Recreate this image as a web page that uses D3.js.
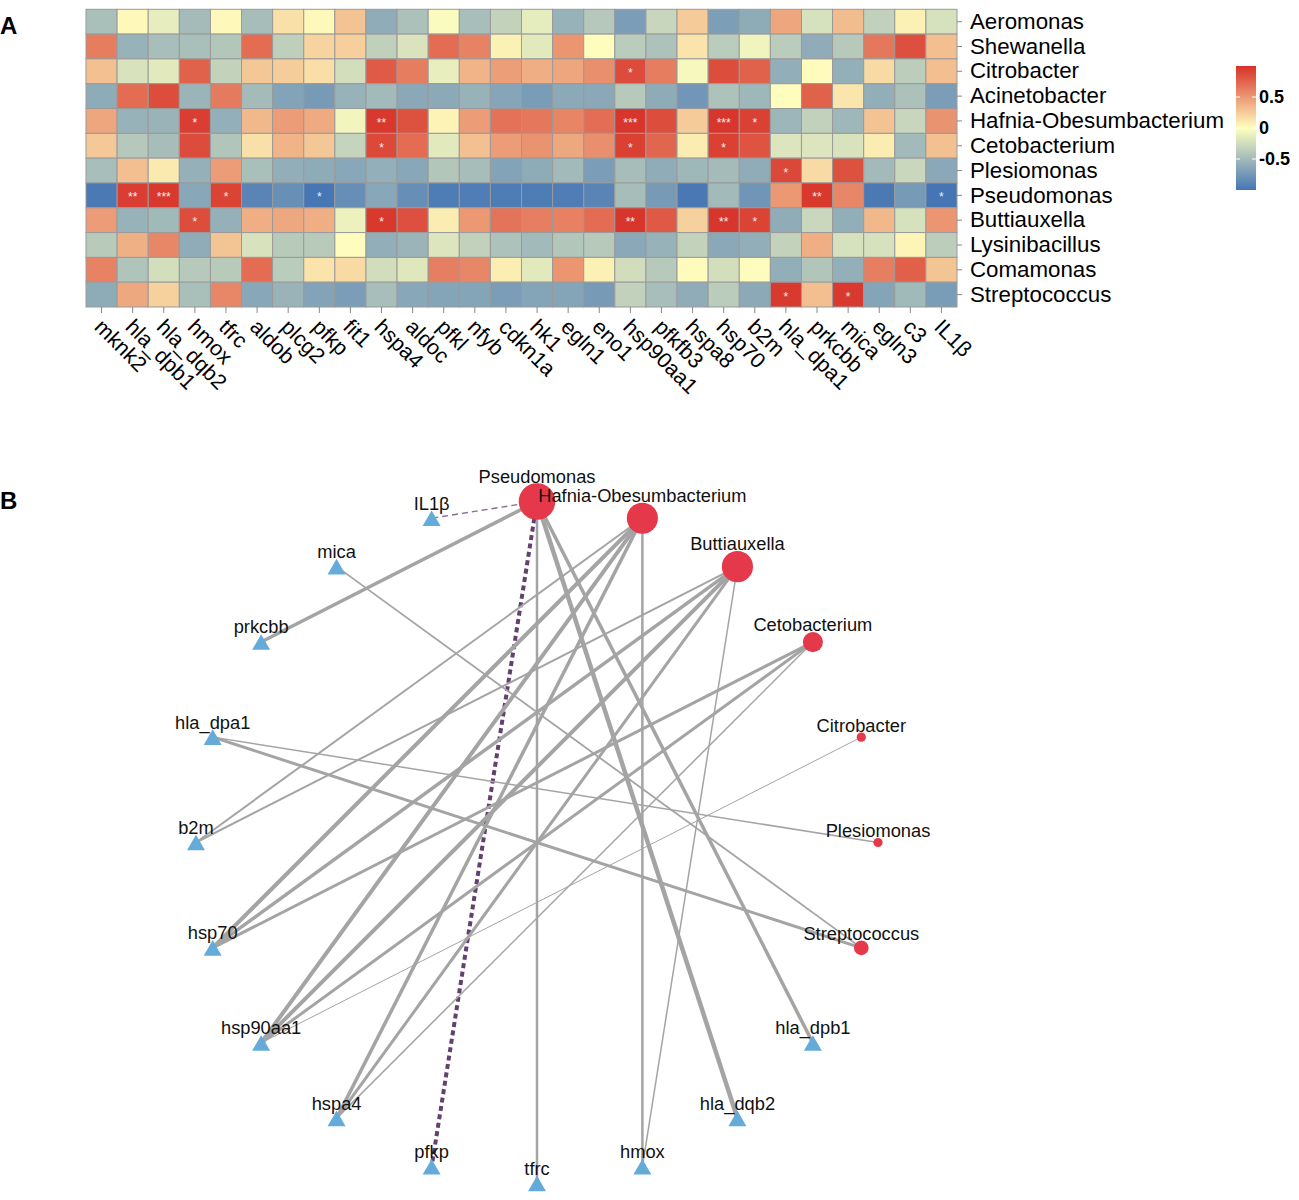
<!DOCTYPE html>
<html lang="en">
<head>
<meta charset="UTF-8">
<title>Microbe - gene correlation</title>
<script src="https://d3js.org/d3.v7.min.js"></script>
<style>
  body { margin: 0; padding: 0; background: #fff; }
  svg { display: block; font-family: 'Liberation Sans', Arial, sans-serif; }
</style>
</head>
<body>
<svg id="chart" width="1299" height="1200"></svg>
<script>
  // ---- heatmap data (rows = microbes, cols = genes) ----
  var microbes = ['Aeromonas', 'Shewanella', 'Citrobacter', 'Acinetobacter', 'Hafnia-Obesumbacterium',
    'Cetobacterium', 'Plesiomonas', 'Pseudomonas', 'Buttiauxella', 'Lysinibacillus', 'Comamonas', 'Streptococcus'];
  var genes = ['mknk2', 'hla_dpb1', 'hla_dqb2', 'hmox', 'tfrc', 'aldob', 'plcg2', 'pfkp', 'fit1', 'hspa4',
    'aldoc', 'pfkl', 'nfyb', 'cdkn1a', 'hk1', 'egln1', 'eno1', 'hsp90aa1', 'pfkfb3', 'hspa8', 'hsp70', 'b2m',
    'hla_dpa1', 'prkcbb', 'mica', 'egln3', 'c3', 'IL1β'];
  var corr = [
    [-0.46,0.03,-0.13,-0.49,0.03,-0.48,0.15,0.03,0.29,-0.60,-0.45,-0.03,-0.47,-0.32,-0.14,-0.56,-0.40,-0.71,-0.30,0.25,-0.70,-0.61,0.43,-0.22,0.32,-0.33,0.07,-0.22],
    [0.63,-0.56,-0.47,-0.46,-0.41,0.71,-0.35,0.21,0.23,-0.34,-0.20,0.71,0.60,0.07,-0.16,0.51,0.01,-0.37,-0.44,0.13,-0.37,-0.08,-0.37,-0.60,-0.39,0.65,0.85,0.31],
    [0.30,-0.21,-0.16,0.76,-0.32,0.27,0.24,0.16,-0.24,0.79,0.63,-0.12,0.36,0.47,0.39,0.43,0.54,0.87,0.63,-0.05,0.86,0.76,-0.59,0.02,-0.58,0.18,-0.36,0.31],
    [-0.61,0.71,0.86,-0.54,0.64,-0.49,-0.67,-0.73,-0.56,-0.50,-0.63,-0.62,-0.56,-0.65,-0.72,-0.62,-0.63,-0.39,-0.61,-0.76,-0.44,-0.52,0.01,0.76,0.12,-0.59,-0.45,-0.71],
    [0.43,-0.56,-0.55,0.93,-0.58,0.34,0.48,0.41,-0.07,0.96,0.84,0.06,0.48,0.68,0.65,0.59,0.70,0.97,0.86,0.25,0.97,0.92,-0.53,-0.33,-0.52,0.29,-0.30,0.52],
    [0.26,-0.40,-0.48,0.87,-0.42,0.15,0.36,0.27,-0.31,0.88,0.71,-0.16,0.30,0.48,0.52,0.42,0.54,0.92,0.74,0.09,0.92,0.83,-0.19,-0.19,-0.21,0.09,-0.50,0.30],
    [-0.47,0.31,0.10,-0.57,0.48,-0.46,-0.59,-0.61,-0.64,-0.58,-0.64,-0.41,-0.48,-0.67,-0.61,-0.50,-0.71,-0.48,-0.60,-0.52,-0.49,-0.60,0.89,0.18,0.84,-0.50,-0.29,-0.63],
    [-0.97,0.93,0.96,-0.64,0.91,-0.89,-0.81,-0.99,-0.82,-0.64,-0.82,-0.95,-0.94,-0.95,-0.95,-0.94,-0.89,-0.48,-0.73,-0.98,-0.50,-0.77,0.50,0.96,0.58,-0.97,-0.73,-1.00],
    [0.48,-0.56,-0.51,0.86,-0.57,0.39,0.42,0.39,-0.10,0.96,0.85,0.09,0.50,0.67,0.62,0.61,0.71,0.97,0.80,0.22,0.97,0.91,-0.60,-0.29,-0.59,0.34,-0.22,0.51],
    [-0.38,0.38,0.58,-0.60,0.28,-0.21,-0.38,-0.38,0.01,-0.59,-0.54,-0.19,-0.33,-0.44,-0.50,-0.41,-0.39,-0.63,-0.56,-0.32,-0.63,-0.59,-0.32,0.39,-0.22,-0.22,0.05,-0.36],
    [0.60,-0.43,-0.24,-0.39,-0.38,0.71,-0.37,0.13,0.18,-0.25,-0.17,0.62,0.58,0.08,-0.16,0.51,0.07,-0.25,-0.39,0.02,-0.24,0.01,-0.59,-0.42,-0.58,0.62,0.77,0.28],
    [-0.61,0.42,0.22,-0.46,0.58,-0.64,-0.55,-0.67,-0.71,-0.47,-0.64,-0.66,-0.66,-0.71,-0.66,-0.66,-0.73,-0.33,-0.47,-0.60,-0.37,-0.62,0.95,0.31,0.95,-0.66,-0.51,-0.72]
  ];
  // significance marks [microbe, gene, mark]
  var sigCells = [
    ['Citrobacter', 'hsp90aa1', '*'],
    ['Hafnia-Obesumbacterium', 'hmox', '*'], ['Hafnia-Obesumbacterium', 'hspa4', '**'],
    ['Hafnia-Obesumbacterium', 'hsp90aa1', '***'], ['Hafnia-Obesumbacterium', 'hsp70', '***'],
    ['Hafnia-Obesumbacterium', 'b2m', '*'],
    ['Cetobacterium', 'hspa4', '*'], ['Cetobacterium', 'hsp90aa1', '*'], ['Cetobacterium', 'hsp70', '*'],
    ['Plesiomonas', 'hla_dpa1', '*'],
    ['Pseudomonas', 'hla_dpb1', '**'], ['Pseudomonas', 'hla_dqb2', '***'], ['Pseudomonas', 'tfrc', '*'],
    ['Pseudomonas', 'pfkp', '*'], ['Pseudomonas', 'prkcbb', '**'], ['Pseudomonas', 'IL1β', '*'],
    ['Buttiauxella', 'hmox', '*'], ['Buttiauxella', 'hspa4', '*'], ['Buttiauxella', 'hsp90aa1', '**'],
    ['Buttiauxella', 'hsp70', '**'], ['Buttiauxella', 'b2m', '*'],
    ['Streptococcus', 'hla_dpa1', '*'], ['Streptococcus', 'mica', '*']
  ];
  var legendTicks = [0.5, 0, -0.5];

  // ---- network data ----
  var ringOrder = ['Pseudomonas', 'Hafnia-Obesumbacterium', 'Buttiauxella', 'Cetobacterium', 'Citrobacter',
    'Plesiomonas', 'Streptococcus', 'hla_dpb1', 'hla_dqb2', 'hmox', 'tfrc', 'pfkp', 'hspa4', 'hsp90aa1',
    'hsp70', 'b2m', 'hla_dpa1', 'prkcbb', 'mica', 'IL1β'];
  // [source, target, line width, style]
  var edges = [
    ['Pseudomonas', 'IL1β', 1.4, 'dashed'],
    ['Pseudomonas', 'pfkp', 4, 'dotted'],
    ['Pseudomonas', 'prkcbb', 3.5, 'solid'],
    ['Pseudomonas', 'tfrc', 2.5, 'solid'],
    ['Pseudomonas', 'hla_dqb2', 4.5, 'solid'],
    ['Pseudomonas', 'hla_dpb1', 3.5, 'solid'],
    ['Hafnia-Obesumbacterium', 'hmox', 2.5, 'solid'],
    ['Hafnia-Obesumbacterium', 'hsp70', 4, 'solid'],
    ['Hafnia-Obesumbacterium', 'hsp90aa1', 4, 'solid'],
    ['Hafnia-Obesumbacterium', 'hspa4', 3.5, 'solid'],
    ['Hafnia-Obesumbacterium', 'b2m', 2, 'solid'],
    ['Buttiauxella', 'hsp70', 3.5, 'solid'],
    ['Buttiauxella', 'hsp90aa1', 4, 'solid'],
    ['Buttiauxella', 'hspa4', 3, 'solid'],
    ['Buttiauxella', 'b2m', 2, 'solid'],
    ['Buttiauxella', 'hmox', 1.5, 'solid'],
    ['Cetobacterium', 'hsp70', 3, 'solid'],
    ['Cetobacterium', 'hsp90aa1', 3, 'solid'],
    ['Cetobacterium', 'hspa4', 1.5, 'solid'],
    ['Citrobacter', 'hsp90aa1', 1, 'solid'],
    ['Plesiomonas', 'hla_dpa1', 1.5, 'solid'],
    ['Streptococcus', 'hla_dpa1', 3, 'solid'],
    ['Streptococcus', 'mica', 1.8, 'solid']
  ];

  var svg = d3.select('#chart');
  svg.append('rect').attr('width', 1299).attr('height', 1200).attr('fill', '#fff');

  svg.append('text').attr('x', 0).attr('y', 34).attr('font-size', 24).attr('font-weight', 'bold').text('A');
  svg.append('text').attr('x', 0).attr('y', 509).attr('font-size', 24).attr('font-weight', 'bold').text('B');

  // ================= A: heatmap =================
  var x = d3.scaleBand().domain(genes).range([86, 957]);
  var y = d3.scaleBand().domain(microbes).range([9.3, 307]);
  var color = d3.scaleLinear().domain([-1, 0, 1]).range(['#4575B4', '#FFFFBF', '#D73027']);

  var cells = [];
  microbes.forEach(function(m, i) {
    genes.forEach(function(g, j) {
      cells.push({m: m, g: g, v: corr[i][j]});
    });
  });

  var heat = svg.append('g');
  heat.selectAll('rect.cell')
    .data(cells).enter().append('rect')
    .attr('class', 'cell')
    .attr('x', function(d) { return x(d.g); })
    .attr('y', function(d) { return y(d.m); })
    .attr('width', x.bandwidth())
    .attr('height', y.bandwidth())
    .attr('fill', function(d) { return color(d.v); })
    .attr('stroke', '#9a9a9a')
    .attr('stroke-width', 1);

  heat.selectAll('text.sig')
    .data(sigCells).enter().append('text')
    .attr('class', 'sig')
    .attr('x', function(d) { return x(d[1]) + x.bandwidth() / 2; })
    .attr('y', function(d) { return y(d[0]) + y.bandwidth() / 2 + 6; })
    .attr('text-anchor', 'middle')
    .attr('font-size', 12)
    .attr('fill', '#f4eeee')
    .text(function(d) { return d[2]; });

  var xAxis = svg.append('g')
    .attr('transform', 'translate(0,307)')
    .call(d3.axisBottom(x).tickSize(6));
  xAxis.select('.domain').remove();
  xAxis.selectAll('line').attr('stroke', '#888');
  xAxis.selectAll('text')
    .attr('x', 0).attr('y', 0).attr('dy', '0.35em')
    .attr('text-anchor', 'start')
    .attr('transform', 'translate(-3,16) rotate(45)')
    .attr('font-size', 21.5)
    .attr('font-family', "'Liberation Sans', Arial, sans-serif")
    .attr('fill', '#000');

  var yAxis = svg.append('g')
    .attr('transform', 'translate(957,0)')
    .call(d3.axisRight(y).tickSize(5).tickPadding(8));
  yAxis.select('.domain').remove();
  yAxis.selectAll('line').attr('stroke', '#888');
  yAxis.selectAll('text')
    .attr('font-size', 22.3)
    .attr('font-family', "'Liberation Sans', Arial, sans-serif")
    .attr('fill', '#000');

  // legend
  var ly = d3.scaleLinear().domain([-1, 1]).range([190, 66]);
  var grad = svg.append('defs').append('linearGradient')
    .attr('id', 'legGrad').attr('x1', 0).attr('y1', 0).attr('x2', 0).attr('y2', 1);
  [1, 0, -1].forEach(function(v, i) {
    grad.append('stop').attr('offset', (i * 50) + '%').attr('stop-color', color(v));
  });
  svg.append('rect')
    .attr('x', 1236).attr('y', ly(1))
    .attr('width', 20).attr('height', ly(-1) - ly(1))
    .attr('fill', 'url(#legGrad)');
  var lt = svg.append('g').selectAll('g').data(legendTicks).enter().append('g')
    .attr('transform', function(d) { return 'translate(0,' + ly(d) + ')'; });
  lt.append('line').attr('x1', 1236).attr('x2', 1240).attr('stroke', '#fff').attr('stroke-width', 1);
  lt.append('line').attr('x1', 1252).attr('x2', 1256).attr('stroke', '#fff').attr('stroke-width', 1);
  lt.append('text')
    .attr('x', 1259).attr('dy', '0.35em')
    .attr('font-size', 18).attr('font-weight', 'bold')
    .text(function(d) { return d; });

  // ================= B: network =================
  var cx = 537, cy = 842.5, R = 341;
  var angle = d3.scaleLinear().domain([0, ringOrder.length]).range([-Math.PI / 2, 1.5 * Math.PI]);

  var degree = {};
  edges.forEach(function(e) {
    degree[e[0]] = (degree[e[0]] || 0) + 1;
    degree[e[1]] = (degree[e[1]] || 0) + 1;
  });
  var radius = d3.scaleLinear().domain([1, 6]).range([4.6, 18.3]);

  var nodes = ringOrder.map(function(name, i) {
    var isMicrobe = microbes.indexOf(name) > -1;
    return {
      name: name,
      x: cx + R * Math.cos(angle(i)),
      y: cy + R * Math.sin(angle(i)),
      microbe: isMicrobe,
      r: isMicrobe ? radius(degree[name]) : 8
    };
  });
  var byName = {};
  nodes.forEach(function(n) { byName[n.name] = n; });

  var net = svg.append('g');
  net.selectAll('line.edge')
    .data(edges).enter().append('line')
    .attr('class', 'edge')
    .attr('x1', function(d) { return byName[d[0]].x; })
    .attr('y1', function(d) { return byName[d[0]].y; })
    .attr('x2', function(d) { return byName[d[1]].x; })
    .attr('y2', function(d) { return byName[d[1]].y; })
    .attr('stroke', function(d) {
      return d[3] === 'dotted' ? '#62406f' : (d[3] === 'dashed' ? '#8a6a93' : '#a4a4a4');
    })
    .attr('stroke-width', function(d) { return d[2]; })
    .attr('stroke-dasharray', function(d) {
      return d[3] === 'dotted' ? '5,3.5' : (d[3] === 'dashed' ? '6,4' : null);
    });

  var tri = d3.symbol().type(d3.symbolTriangle).size(140);
  net.selectAll('path.gene')
    .data(nodes.filter(function(n) { return !n.microbe; })).enter().append('path')
    .attr('class', 'gene')
    .attr('d', tri)
    .attr('transform', function(d) { return 'translate(' + d.x + ',' + (d.y + 2.6) + ')'; })
    .attr('fill', '#64abd9');

  net.selectAll('circle.microbe')
    .data(nodes.filter(function(n) { return n.microbe; })).enter().append('circle')
    .attr('class', 'microbe')
    .attr('cx', function(d) { return d.x; })
    .attr('cy', function(d) { return d.y; })
    .attr('r', function(d) { return d.r; })
    .attr('fill', '#e5384a');

  net.selectAll('text.lab')
    .data(nodes).enter().append('text')
    .attr('class', 'lab')
    .attr('x', function(d) { return d.x; })
    .attr('y', function(d) { return d.y - (7 + d.r); })
    .attr('dy', '0.35em')
    .attr('text-anchor', 'middle')
    .attr('font-size', 18.3)
    .attr('fill', '#111')
    .text(function(d) { return d.name; });
</script>
</body>
</html>
